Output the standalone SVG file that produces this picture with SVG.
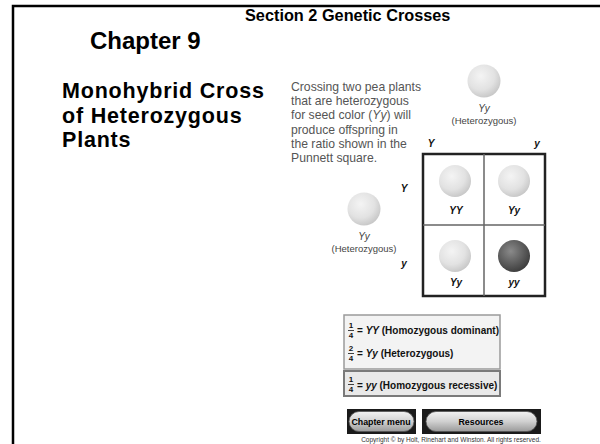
<svg xmlns="http://www.w3.org/2000/svg" width="600" height="444" viewBox="0 0 600 444">
  <style>
    .title { font-family: "Liberation Sans", Arial, sans-serif; font-weight: bold; fill: #000; }
    .body { font-family: "Liberation Sans", Arial, sans-serif; font-size: 12.2px; fill: #555; }
    .geno { font-family: "Liberation Sans", Arial, sans-serif; font-style: italic; font-size: 10px; fill: #444; text-anchor: middle; }
    .het { font-family: "Liberation Sans", Arial, sans-serif; font-size: 9.5px; fill: #444; text-anchor: middle; }
    .allele { font-family: "Liberation Sans", Arial, sans-serif; font-style: italic; font-weight: bold; font-size: 10px; fill: #111; text-anchor: middle; }
    .leg { font-family: "Liberation Sans", Arial, sans-serif; font-weight: bold; font-size: 10px; fill: #111; }
    .frac { font-family: "Liberation Sans", Arial, sans-serif; font-weight: bold; font-size: 8px; fill: #111; text-anchor: middle; }
    .btn { font-family: "Liberation Sans", Arial, sans-serif; font-weight: bold; font-size: 8.8px; fill: #000; text-anchor: middle; }
    .pea { fill: url(#peaLight); }
    .peaDark { fill: url(#peaDark); }
  </style>
  <defs>
    <radialGradient id="peaLight" cx="0.4" cy="0.35" r="0.7">
      <stop offset="0" stop-color="#f4f4f4"/>
      <stop offset="0.6" stop-color="#e2e2e2"/>
      <stop offset="1" stop-color="#c4c4c4"/>
    </radialGradient>
    <radialGradient id="peaDark" cx="0.4" cy="0.35" r="0.7">
      <stop offset="0" stop-color="#8a8a8a"/>
      <stop offset="0.6" stop-color="#5a5a5a"/>
      <stop offset="1" stop-color="#3a3a3a"/>
    </radialGradient>
    <linearGradient id="pill" x1="0" y1="0" x2="0" y2="1">
      <stop offset="0" stop-color="#f2f2f2"/>
      <stop offset="0.5" stop-color="#d0d0d0"/>
      <stop offset="1" stop-color="#9a9a9a"/>
    </linearGradient>
  </defs>

  <rect width="600" height="444" fill="#fff"/>

  <!-- slide frame: top and left edges -->
  <path d="M13 444 V6 H600" fill="none" stroke="#000" stroke-width="2.5"/>

  <!-- headings -->
  <text class="title" x="245" y="21" font-size="16.3">Section 2 Genetic Crosses</text>
  <text class="title" x="90" y="49" font-size="24">Chapter 9</text>
  <g id="heading">
    <text class="title" x="62" y="98" font-size="21.5" letter-spacing="0.8">Monohybrid Cross</text>
    <text class="title" x="62" y="122.5" font-size="21.5" letter-spacing="0.8">of Heterozygous</text>
    <text class="title" x="62" y="147" font-size="21.5" letter-spacing="0.8">Plants</text>
  </g>

  <!-- caption -->
  <g id="caption">
    <text class="body" x="291" y="91">Crossing two pea plants</text>
    <text class="body" x="291" y="105">that are heterozygous</text>
    <text class="body" x="291" y="119">for seed color (<tspan font-style="italic">Yy</tspan>) will</text>
    <text class="body" x="291" y="134">produce offspring in</text>
    <text class="body" x="291" y="148">the ratio shown in the</text>
    <text class="body" x="291" y="162">Punnett square.</text>
  </g>

  <!-- parent plants -->
  <g id="parent-top">
    <circle class="pea" cx="484" cy="81" r="16.5"/>
    <text class="geno" x="484" y="112">Yy</text>
    <text class="het" x="484" y="124">(Heterozygous)</text>
    <text class="allele" x="431" y="147">Y</text>
    <text class="allele" x="537" y="147">y</text>
  </g>
  <g id="parent-left">
    <circle class="pea" cx="364" cy="209" r="16.5"/>
    <text class="geno" x="364" y="240">Yy</text>
    <text class="het" x="364" y="252">(Heterozygous)</text>
    <text class="allele" x="404" y="192">Y</text>
    <text class="allele" x="404" y="267">y</text>
  </g>

  <!-- Punnett square -->
  <g id="punnett">
    <rect x="423" y="154" width="122" height="142" fill="#fff" stroke="#222" stroke-width="2.5"/>
    <path d="M484 154 V296 M423 225 H545" stroke="#666" stroke-width="1.5"/>
  </g>
  <g id="cell-YY">
    <circle class="pea" cx="455" cy="181" r="16"/>
    <text class="allele" x="456" y="214">YY</text>
  </g>
  <g id="cell-Yy-top">
    <circle class="pea" cx="514" cy="181" r="16"/>
    <text class="allele" x="514" y="214">Yy</text>
  </g>
  <g id="cell-Yy-bottom">
    <circle class="pea" cx="455" cy="256" r="16"/>
    <text class="allele" x="456" y="286">Yy</text>
  </g>
  <g id="cell-yy">
    <circle class="peaDark" cx="514" cy="256" r="16"/>
    <text class="allele" x="514" y="286">yy</text>
  </g>

  <!-- ratio legend -->
  <g id="legend">
    <rect x="344" y="315" width="156" height="54" fill="#f3f3f3" stroke="#9a9a9a" stroke-width="1.5"/>
    <rect x="344" y="371" width="156" height="25" fill="#e9e9e9" stroke="#7a7a7a" stroke-width="2"/>
    <text class="frac" x="351" y="328">1</text>
    <path d="M348 330.5 H354" stroke="#111" stroke-width="0.8"/>
    <text class="frac" x="351" y="338">4</text>
    <text class="leg" x="357" y="334">= <tspan font-style="italic">YY</tspan> (Homozygous dominant)</text>
    <text class="frac" x="351" y="351">2</text>
    <path d="M348 353.5 H354" stroke="#111" stroke-width="0.8"/>
    <text class="frac" x="351" y="361">4</text>
    <text class="leg" x="357" y="357">= <tspan font-style="italic">Yy</tspan> (Heterozygous)</text>
    <text class="frac" x="351" y="382">1</text>
    <path d="M348 384.5 H354" stroke="#111" stroke-width="0.8"/>
    <text class="frac" x="351" y="392">4</text>
    <text class="leg" x="357" y="389">= <tspan font-style="italic">yy</tspan> (Homozygous  recessive)</text>
  </g>

  <!-- navigation buttons -->
  <g id="btn-chapter-menu">
    <rect x="347" y="409" width="69" height="25" fill="#1a1a1a"/>
    <rect x="349" y="411.5" width="65" height="20" rx="10" fill="url(#pill)" stroke="#555" stroke-width="0.8"/>
    <text class="btn" x="381" y="425">Chapter menu</text>
  </g>
  <g id="btn-resources">
    <rect x="422" y="409" width="119" height="25" fill="#1a1a1a"/>
    <rect x="426" y="411.5" width="111" height="20" rx="10" fill="url(#pill)" stroke="#555" stroke-width="0.8"/>
    <text class="btn" x="481" y="425">Resources</text>
  </g>

  <text x="451" y="441.5" font-family="Liberation Sans, Arial, sans-serif" font-size="6.5" fill="#333" text-anchor="middle">Copyright © by Holt, Rinehart and Winston. All rights reserved.</text>
</svg>
